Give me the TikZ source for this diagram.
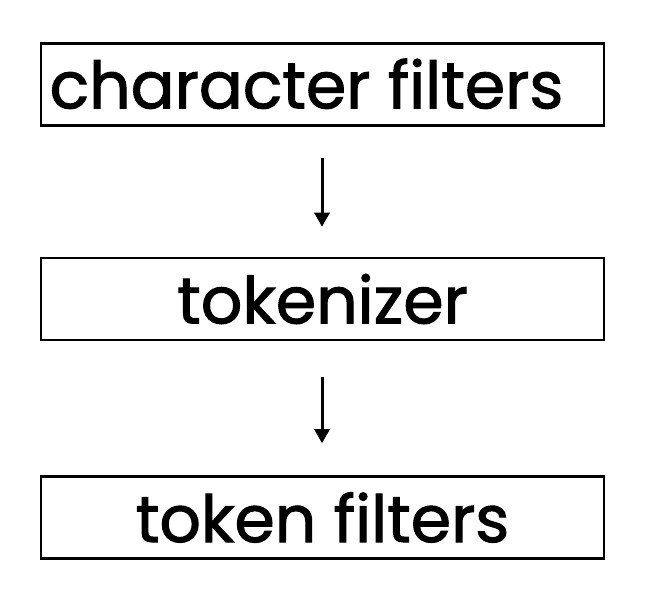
\documentclass[tikz,border=0pt]{standalone}
\usepackage{fontspec}
\setmainfont{Poppins}[FakeBold=1.6]
\usetikzlibrary{arrows.meta}
\begin{document}
\begin{tikzpicture}[x=1pt,y=1pt,
  stagebox/.style={draw=black,line width=2.5pt,minimum width=563pt,minimum height=82pt,inner sep=0pt,font=\fontsize{65}{72}\selectfont},
  flow/.style={line width=3pt,-{Triangle[width=15pt,length=14pt]}}]
\useasboundingbox[fill=white] (0,0) rectangle (650,604);
\node[stagebox] (chars) at (322.5,519.5) {\raisebox{2pt}{character filters}\hspace*{32pt}};
\node[stagebox] (tok) at (322.5,305) {tokenizer};
\node[stagebox] (tokf) at (322.5,86.5) {token filters};
\draw[flow,shorten <=31pt,shorten >=30pt] (chars.south -| 322,0) -- (tok.north -| 322,0);
\draw[flow,shorten <=36pt,shorten >=32pt] (tok.south -| 322,0) -- (tokf.north -| 322,0);
\end{tikzpicture}
\end{document}
